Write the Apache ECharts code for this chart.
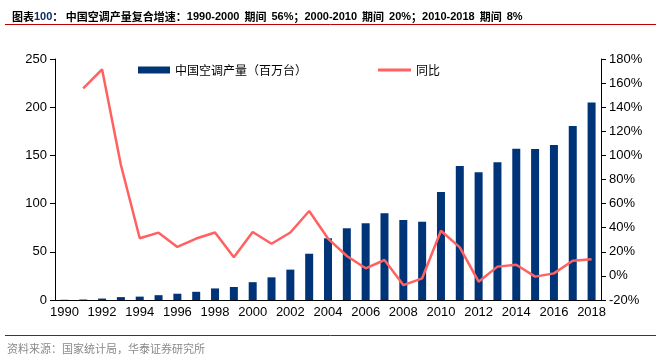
<!DOCTYPE html>
<html>
<head>
<meta charset="utf-8">
<script src="https://cdn.jsdelivr.net/npm/echarts@6/dist/echarts.min.js"></script>
<style>
    html, body { margin: 0; padding: 0; background: #fff; }
    #main { width: 656px; height: 360px; }
</style>
</head>
<body>
<div id="main"></div>
<script>
// 年份
const years = ['1990', '1991', '1992', '1993', '1994', '1995', '1996', '1997', '1998', '1999',
    '2000', '2001', '2002', '2003', '2004', '2005', '2006', '2007', '2008', '2009',
    '2010', '2011', '2012', '2013', '2014', '2015', '2016', '2017', '2018'];
// 中国空调产量（百万台）
const output = [0.2, 0.5, 1.5, 3, 3.5, 5, 6.5, 8.5, 12, 13.5,
    18.5, 23.5, 31.5, 48, 64, 74.4, 79.6, 90, 83, 81.2,
    112, 139, 132.5, 143, 157, 156.6, 160.8, 180.5, 205];
// 同比（%）
const yoy = [null, 155.7, 171.4, 92, 31.2, 35.9, 24, 31, 36, 15.4,
    36.4, 26.7, 36, 53.9, 31, 16.5, 6.3, 13.2, -7.6, -2,
    37.5, 23.7, -4.8, 7.7, 9.3, -0.6, 2.1, 12.6, 13.8];
const leftTicks = [0, 250, 50];
const rightTicks = [-20, 180, 20];

const chart = echarts.init(document.getElementById('main'));
const axisFont = { fontSize: 13, color: '#000', fontFamily: 'Liberation Sans, Arial, sans-serif' };
const legendFont = { fontSize: 12, color: '#000', fontFamily: 'Noto Sans CJK SC' };

chart.setOption({
    animation: false,
    title: {
        left: 7,
        top: 3,
        text: '{a|图表}{b|100}{a|： 中国空调产量复合增速：}{c|1990-2000} {a|期间} {c|56%}{a|；}{c|2000-2010} {a|期间} {c|20%}{a|；}{c|2010-2018} {a|期间} {c|8%}',
        textStyle: {
            rich: {
                a: { fontSize: 11, fontWeight: 'bold', color: '#000', fontFamily: 'Noto Sans CJK SC' },
                b: { fontSize: 11, fontWeight: 'bold', color: '#0b2d6b', fontFamily: 'Liberation Sans, Arial' },
                c: { fontSize: 11, fontWeight: 'bold', color: '#000', fontFamily: 'Liberation Sans, Arial' }
            }
        }
    },
    graphic: [
        { type: 'line', shape: { x1: 5, y1: 24.5, x2: 656, y2: 24.5 }, style: { stroke: '#c00000', lineWidth: 1 } },
        { type: 'line', shape: { x1: 5, y1: 335.5, x2: 656, y2: 335.5 }, style: { stroke: '#c00000', lineWidth: 1 } },
        {
            type: 'text', left: 7, top: 343,
            style: { text: '资料来源：国家统计局，华泰证券研究所', fontSize: 11, fill: '#8a8a8a', fontFamily: 'Noto Sans CJK SC' }
        }
    ],
    legend: [
        {
            left: 133,
            top: 59,
            itemWidth: 32,
            itemHeight: 7,
            textStyle: legendFont,
            data: [{ name: '中国空调产量（百万台）', icon: 'rect' }]
        },
        {
            left: 373,
            top: 59,
            itemWidth: 33,
            itemHeight: 3,
            textStyle: legendFont,
            data: [{ name: '同比', icon: 'rect' }]
        }
    ],
    grid: { left: 55, right: 55, top: 59, bottom: 60 },
    xAxis: {
        type: 'category',
        data: years,
        boundaryGap: true,
        axisLine: { lineStyle: { color: '#000', width: 1 } },
        axisTick: { interval: 0, length: 5, lineStyle: { color: '#000' } },
        axisLabel: Object.assign({ interval: 1, margin: 6 }, axisFont)
    },
    yAxis: [
        {
            type: 'value',
            min: leftTicks[0], max: leftTicks[1], interval: leftTicks[2],
            axisLine: { show: true, lineStyle: { color: '#000' } },
            axisTick: { show: true, length: 5, lineStyle: { color: '#000' } },
            splitLine: { show: false },
            axisLabel: Object.assign({ margin: 8 }, axisFont)
        },
        {
            type: 'value',
            min: rightTicks[0], max: rightTicks[1], interval: rightTicks[2],
            axisLine: { show: true, lineStyle: { color: '#000' } },
            axisTick: { show: true, length: 5, lineStyle: { color: '#000' } },
            splitLine: { show: false },
            axisLabel: Object.assign({ margin: 8, formatter: '{value}%' }, axisFont)
        }
    ],
    series: [
        {
            name: '中国空调产量（百万台）',
            type: 'bar',
            data: output,
            barWidth: 8,
            itemStyle: { color: '#003478' }
        },
        {
            name: '同比',
            type: 'line',
            yAxisIndex: 1,
            data: yoy,
            symbol: 'none',
            lineStyle: { color: '#ff6161', width: 2.5 },
            itemStyle: { color: '#ff6161' }
        }
    ]
});
</script>
</body>
</html>
